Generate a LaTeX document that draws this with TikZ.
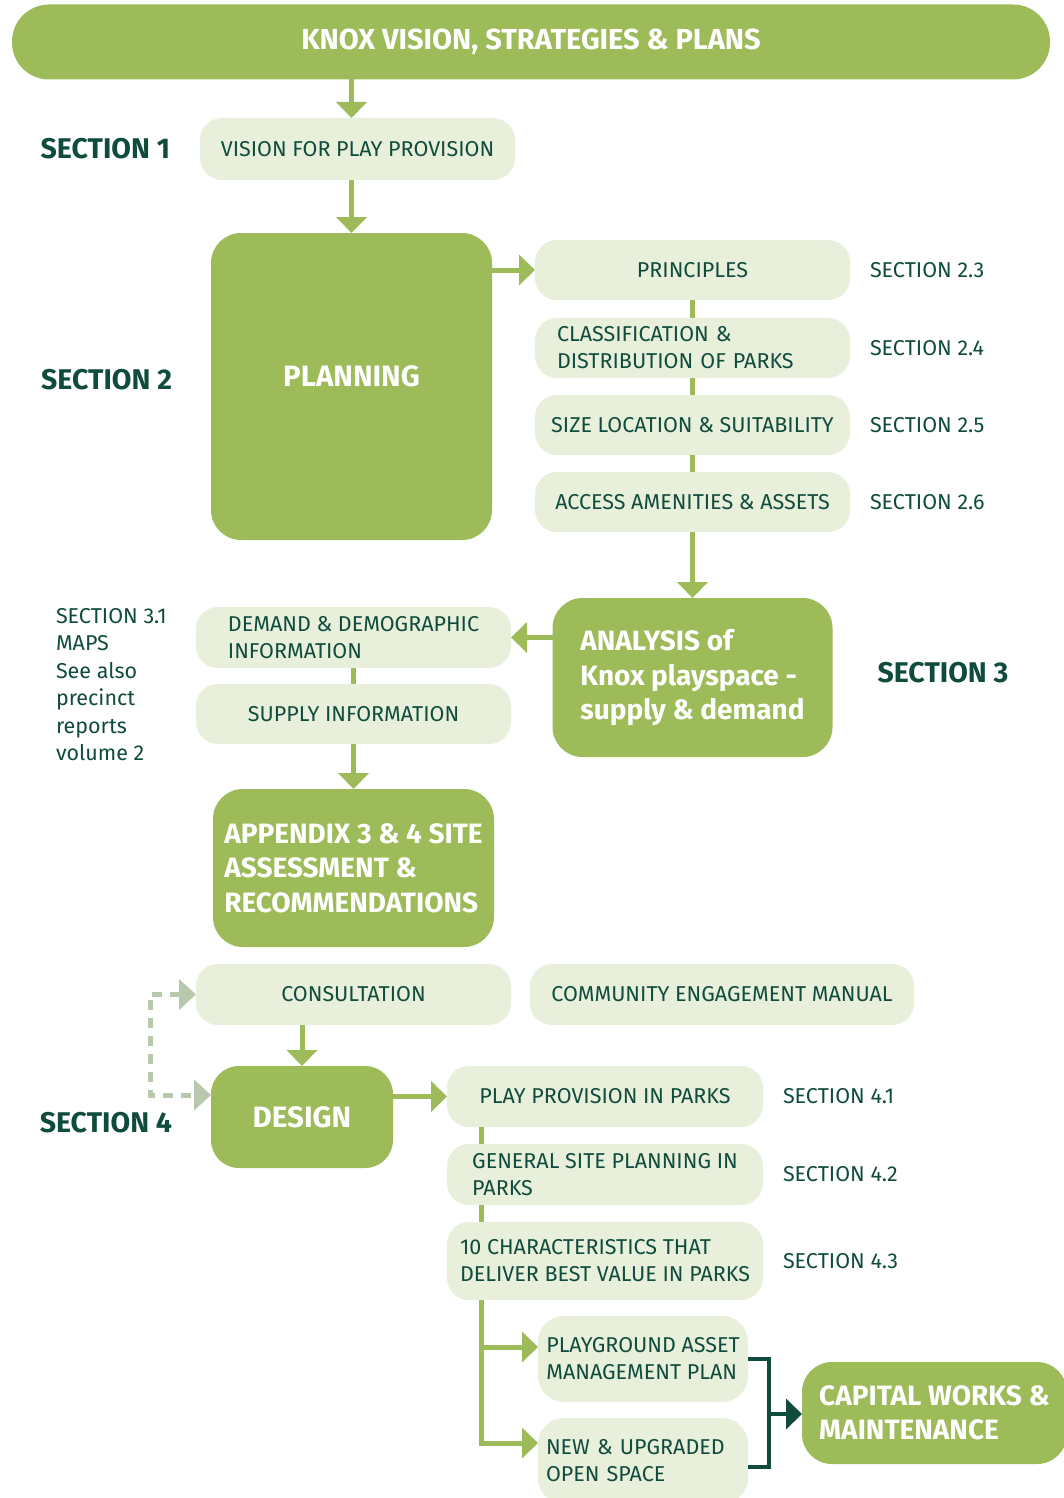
\documentclass[tikz,border=0pt]{standalone}
\usepackage{fontspec}
\setmainfont{Fira Sans}
\usetikzlibrary{arrows.meta,positioning}
\definecolor{knoxgreen}{RGB}{157,187,89}
\definecolor{knoxpale} {RGB}{232,240,219}
\definecolor{knoxink}  {RGB}{16,76,62}
\definecolor{knoxmist} {RGB}{184,200,172}
\newcommand{\plainfont}{\fontsize{21.5}{27}\selectfont}
\newcommand{\heavyfont}{\bfseries\fontsize{28}{34.5}\selectfont}
\newcommand{\titlefont}{\bfseries\fontsize{29.5}{34}\selectfont}

\begin{document}
\begin{tikzpicture}[
  x=1pt, y=-1pt,
  node distance=17pt and 20pt,
  every node/.style={inner sep=0pt, outer sep=0pt},
  pale/.style={fill=knoxpale, text=knoxink, rounded corners=22pt, minimum width=315pt, minimum height=61pt, font=\plainfont, align=center},
  paleblock/.style={pale, align=left},
  solid/.style={fill=knoxgreen, text=white, rounded corners=30pt, font=\heavyfont, align=left},
  tag/.style={text=knoxink, font=\plainfont, anchor=west},
  section/.style={text=knoxink, font=\bfseries\fontsize{28.5}{32}\selectfont},
  arrow/.style={draw=knoxgreen, line width=5pt, -{Triangle[width=30pt,length=16pt]}},
  link/.style={draw=knoxgreen, line width=5pt},
  dashlink/.style={draw=knoxmist, line width=5pt, dash pattern=on 10pt off 8pt, {Triangle[width=30pt,length=17pt]}-{Triangle[width=30pt,length=17pt]}},
  bracket/.style={draw=knoxink, line width=4pt},
  darkarrow/.style={draw=knoxink, line width=4pt, -{Triangle[width=30pt,length=16pt]}}
]
  \useasboundingbox (0,0) rectangle (1063,1498);
  \fill[white] (0,0) rectangle (1063,1498);

  % Top and section 1
  \node (banner) [solid, align=center, rounded corners=37pt, minimum width=1038pt, minimum height=75pt, font=\bfseries\fontsize{29}{32}\selectfont] at (531,42) {KNOX VISION, STRATEGIES \& PLANS};
  \node (vision) [pale, minimum height=62pt] at (357.5,149) {VISION FOR PLAY PROVISION};
  \node (sec1) [section, left=30pt of vision] {SECTION 1};

  % Section 2
  \node (planning) [solid, align=center, minimum width=281pt, minimum height=307pt, font=\titlefont] at (351.5,386.5) {\raisebox{20pt}{PLANNING}};
  \node (sec2) [section, left=39pt of planning, yshift=7pt] {SECTION 2};
  \node (principles) [pale, minimum height=60pt] at (692.5,270) {PRINCIPLES};
  \node (classif) [pale, align=left, inner xsep=22pt, text width=271pt, minimum height=60pt, below=18pt of principles] {CLASSIFICATION \&\\DISTRIBUTION OF PARKS};
  \node (sizeloc) [pale, minimum height=60pt, below=of classif] {SIZE LOCATION \& SUITABILITY};
  \node (access) [pale, minimum height=60pt, below=of sizeloc] {ACCESS AMENITIES \& ASSETS};
  \node (s23) [tag, right=20pt of principles] {SECTION 2.3};
  \node (s24) [tag, right=20pt of classif] {SECTION 2.4};
  \node (s25) [tag, right=20pt of sizeloc] {SECTION 2.5};
  \node (s26) [tag, right=20pt of access] {SECTION 2.6};

  % Section 3
  \node (analysis) [solid, minimum width=280pt, minimum height=159pt, below=66pt of access] {ANALYSIS of\\Knox playspace -\\supply \& demand};
  \node (sec3) [section, right=45pt of analysis, yshift=5pt] {SECTION 3};
  \node (demand) [paleblock] at (353.5,637.5) {DEMAND \& DEMOGRAPHIC\\INFORMATION};
  \node (supply) [pale, minimum height=60pt, below=16pt of demand] {SUPPLY INFORMATION};
  \node (maps) [tag, anchor=north west, align=left, font=\fontsize{21.5}{27.5}\selectfont] at (56,608) {SECTION 3.1\\MAPS\\See also\\precinct\\reports\\volume 2};
  \node (appendix) [solid, minimum width=281pt, minimum height=158pt, below=45pt of supply] {APPENDIX 3 \& 4 SITE\\ASSESSMENT \&\\RECOMMENDATIONS};

  % Section 4
  \node (consult) [pale, below=of appendix] {CONSULTATION};
  \node (manual) [pale, minimum width=384pt, right=19pt of consult] {COMMUNITY ENGAGEMENT MANUAL};
  \node (design) [solid, align=center, rounded corners=28pt, minimum width=182pt, minimum height=102pt, font=\titlefont] at (302,1117) {DESIGN};
  \node (sec4) [section, left=39pt of design, yshift=-6pt] {SECTION 4};
  \node (play) [pale, minimum width=316pt] at (605,1096.5) {PLAY PROVISION IN PARKS};
  \node (general) [paleblock, minimum width=316pt, below=of play] {GENERAL SITE PLANNING IN\\PARKS};
  \node (ten) [paleblock, minimum width=316pt, minimum height=78pt, below=of general] {10 CHARACTERISTICS THAT\\DELIVER BEST VALUE IN PARKS};
  \node (s41) [tag, right=20pt of play] {SECTION 4.1};
  \node (s42) [tag, right=20pt of general] {SECTION 4.2};
  \node (s43) [tag, right=20pt of ten] {SECTION 4.3};
  \node (playground) [paleblock, rounded corners=26pt, minimum width=210pt, minimum height=86pt] at (643,1359) {PLAYGROUND ASSET\\MANAGEMENT PLAN};
  \node (newspace) [paleblock, rounded corners=26pt, inner xsep=8pt, text width=194pt, minimum width=210pt, minimum height=86pt, below=16pt of playground] {NEW \& UPGRADED\\OPEN SPACE};
  \node (capital) [solid, minimum width=265pt, minimum height=102pt] at (934.5,1413) {CAPITAL WORKS \&\\MAINTENANCE};

  \coordinate (spine) at (481,1300);
  \coordinate (brace) at (769,1414);
  \coordinate (loop) at (150,1000);

  % Paths
  \draw [arrow] (banner.south -| planning) -- (vision.north -| planning);
  \draw [arrow] (vision.south -| planning) -- (planning.north);
  \draw [arrow] (planning.east |- principles) -- (principles.west);
  \draw [link] (principles) -- (classif);
  \draw [link] (classif) -- (sizeloc);
  \draw [link] (sizeloc) -- (access);
  \draw [arrow] (access.south) -- (access.south |- analysis.north);
  \draw [arrow] (analysis.west |- demand) -- (demand.east);
  \draw [link] (demand) -- (supply);
  \draw [arrow] (supply.south) -- (supply.south |- appendix.north);
  \draw [arrow] (consult.south -| design) -- (design.north);
  \draw [dashlink] (consult.west) -| (loop) |- ([yshift=22pt]design.west);
  \draw [arrow] (design.east |- play) -- (play.west);
  \draw [link] (play.south -| spine) -- (general.north -| spine);
  \draw [link] (general.south -| spine) -- (ten.north -| spine);
  \draw [arrow] (ten.south -| spine) |- ([yshift=12pt]playground.west);
  \draw [arrow] (ten.south -| spine) |- ([yshift=18pt]newspace.west);
  \draw [bracket] (playground.east) -| (brace) |- ([yshift=-6pt]newspace.east);
  \draw [darkarrow] (brace) -- (brace -| capital.west);
\end{tikzpicture}
\end{document}
